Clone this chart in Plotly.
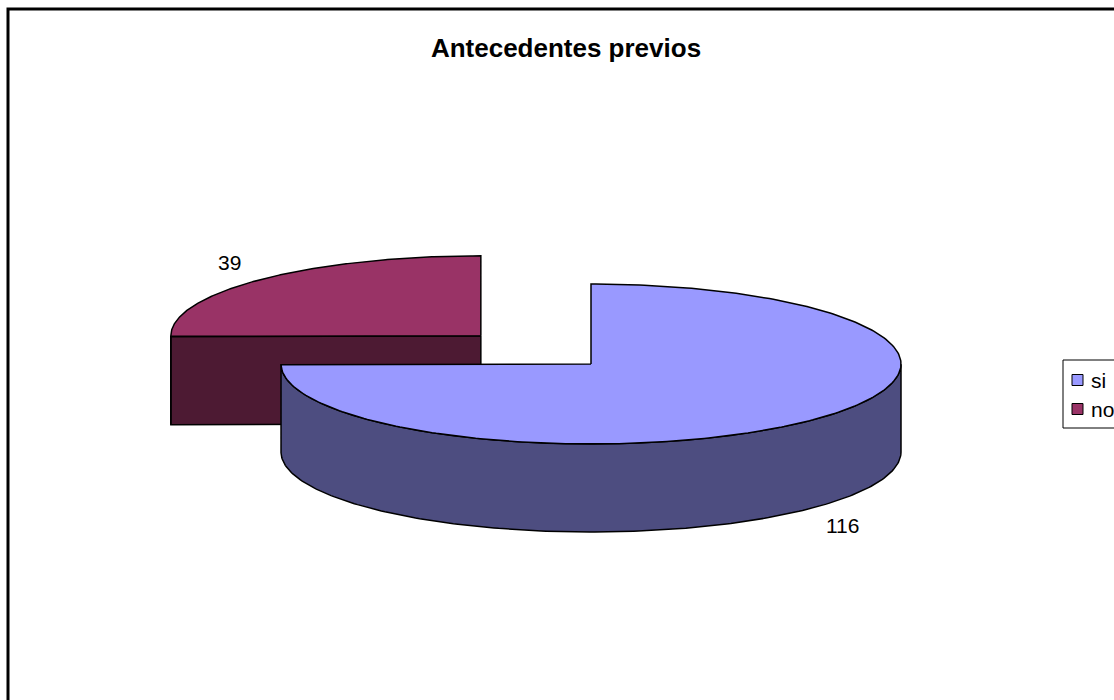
import numpy as np
import plotly.graph_objects as go

# ---- data ----
labels = ["si", "no"]
values = [116, 39]
top_colors = ["#9999FF", "#993366"]
side_colors = ["#4D4D80", "#4D1A33"]
explode = [0.0, 0.5]
title_text = "Antecedentes previos"

# ---- geometry / style (pixel space) ----
W, H = 1114, 700
CX, CY = 591, 364      # pie centre
A, B = 310, 80         # ellipse semi-axes
DEPTH = 88             # pie thickness
START = 90.0           # start angle (deg), clockwise
FONT = "Liberation Sans, Arial, sans-serif"

# legend box layout (pixels)
LEG_X, LEG_Y, LEG_ROW, LEG_PAD = 1063, 360, 29, 20

fig = go.Figure()

total = float(sum(values))
slices = []
ang = START
for lab, v, tc, sc, ex in zip(labels, values, top_colors, side_colors, explode):
    sweep = v / total * 360.0
    hi, lo = ang, ang - sweep
    mid = np.radians((hi + lo) / 2)
    ox = CX + ex * A * np.cos(mid)
    oy = CY - ex * B * np.sin(mid)
    slices.append(dict(lab=lab, v=v, tc=tc, sc=sc, hi=hi, lo=lo, mid=mid, ox=ox, oy=oy))
    ang = lo


def poly(xs, ys, color):
    fig.add_trace(go.Scatter(x=list(xs) + [xs[0]], y=list(ys) + [ys[0]], mode="lines",
                             fill="toself", fillcolor=color,
                             line=dict(color="black", width=1.5),
                             hoverinfo="skip", showlegend=False))


# draw back slices first
for s in sorted(slices, key=lambda s: -np.sin(s["mid"])):
    ox, oy = s["ox"], s["oy"]
    th = np.radians(np.linspace(s["hi"], s["lo"], 300))
    # radial faces
    for phi, psi in ((s["hi"], s["hi"] + 90), (s["lo"], s["lo"] - 90)):
        if np.sin(np.radians(psi)) < -1e-6:
            r = np.radians(phi)
            rx, ry = ox + A * np.cos(r), oy - B * np.sin(r)
            poly([ox, rx, rx, ox], [oy, ry, ry + DEPTH, oy + DEPTH], s["sc"])
    # outer wall (front part)
    front = th[np.sin(th) <= 0]
    if len(front) > 1:
        tx = ox + A * np.cos(front)
        ty = oy - B * np.sin(front)
        poly(np.concatenate([tx, tx[::-1]]), np.concatenate([ty, ty[::-1] + DEPTH]), s["sc"])
    # top face
    px = np.concatenate([[ox], ox + A * np.cos(th)])
    py = np.concatenate([[oy], oy - B * np.sin(th)])
    poly(px, py, s["tc"])

# data labels
for s in slices:
    m = s["mid"]
    lx = s["ox"] + 1.14 * A * np.cos(m)
    ly = s["oy"] - 1.3 * B * np.sin(m) + (DEPTH if np.sin(m) < 0 else 0)
    fig.add_annotation(x=lx, y=ly, text=str(s["v"]), showarrow=False,
                       font=dict(family=FONT, size=21, color="black"),
                       xanchor="center", yanchor="middle")

# legend (drawn box, squares and texts)
fig.add_shape(type="rect", x0=LEG_X, y0=LEG_Y, x1=W + 20,
              y1=LEG_Y + LEG_ROW * len(labels) + 10,
              line=dict(color="black", width=1), fillcolor="white")
for i, (lab, tc) in enumerate(zip(labels, top_colors)):
    yc = LEG_Y + LEG_PAD + i * LEG_ROW
    fig.add_shape(type="rect", x0=LEG_X + 9, x1=LEG_X + 20, y0=yc - 5.5, y1=yc + 5.5,
                  line=dict(color="black", width=1), fillcolor=tc)
    fig.add_annotation(x=LEG_X + 26, y=yc, text=lab, showarrow=False,
                       xanchor="left", yanchor="middle",
                       font=dict(family=FONT, size=21, color="black"))

# chart frame
fig.add_shape(type="rect", x0=8, y0=9, x1=W + 20, y1=H + 20,
              line=dict(color="black", width=3), layer="below")

fig.update_layout(
    width=W, height=H, margin=dict(l=0, r=0, t=0, b=0, autoexpand=False),
    paper_bgcolor="white", plot_bgcolor="white",
    title=dict(text="<b>" + title_text + "</b>", x=566 / W, xanchor="center",
               y=1 - 48 / H, yanchor="middle",
               font=dict(family=FONT, size=26, color="black")),
    xaxis=dict(range=[0, W], visible=False, fixedrange=True),
    yaxis=dict(range=[H, 0], visible=False, fixedrange=True),
    showlegend=False,
)

fig.write_html("out.html")
